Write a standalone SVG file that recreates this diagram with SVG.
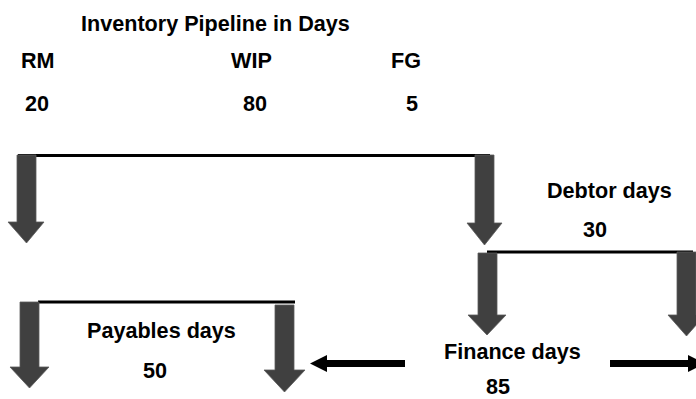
<svg xmlns="http://www.w3.org/2000/svg" width="696" height="399" viewBox="0 0 696 399">
  <style>
    .lbl { font-family: "Liberation Sans", Arial, sans-serif; font-weight: bold; font-size: 21.6px; fill: #000; }
    .bar { stroke: #000; stroke-width: 3; fill: none; }
    .block { fill: #404040; stroke: #5a5a5a; stroke-width: 0.8; }
    .flow { fill: #000; }
  </style>
  <rect width="696" height="399" fill="#fff"/>

  <!-- Text nodes -->
  <g id="title"><text class="lbl" x="81" y="31">Inventory Pipeline in Days</text></g>
  <g id="rm"><text class="lbl" x="21" y="68">RM</text><text class="lbl" x="25" y="111">20</text></g>
  <g id="wip"><text class="lbl" x="231" y="68">WIP</text><text class="lbl" x="243" y="111">80</text></g>
  <g id="fg"><text class="lbl" x="391" y="68">FG</text><text class="lbl" x="406" y="111">5</text></g>
  <g id="debtor"><text class="lbl" x="547" y="198">Debtor days</text><text class="lbl" x="583" y="237">30</text></g>
  <g id="payables"><text class="lbl" x="87" y="338">Payables days</text><text class="lbl" x="143" y="378">50</text></g>
  <g id="finance"><text class="lbl" x="444" y="359">Finance days</text><text class="lbl" x="486" y="394">85</text></g>

  <!-- Connectors -->
  <g id="connectors">
    <!-- span bars -->
    <line class="bar" x1="18" y1="155.5" x2="490" y2="155.5"/>
    <line class="bar" x1="487" y1="252" x2="693" y2="252"/>
    <line class="bar" x1="38" y1="302" x2="295" y2="302"/>

    <!-- downward block arrows -->
    <path class="block" d="M17,155 H36 V222 H44 L26.5,243 L8,222 H17 Z"/>
    <path class="block" d="M475,155 H494 V223 H502 L484.5,245 L467,223 H475 Z"/>
    <path class="block" d="M478,253 H497 V315 H506 L487,335 L468,315 H478 Z"/>
    <path class="block" d="M677,252 H696 V315 H705 L686.5,336 L668,315 H677 Z"/>
    <path class="block" d="M20,302 H39 V367 H49 L29.5,388 L10,367 H20 Z"/>
    <path class="block" d="M275,305 H294 V370 H305 L284.5,392 L264,370 H275 Z"/>

    <!-- horizontal flow arrows -->
    <path class="flow" d="M405,360 V367 H327 V372 L310,363.5 L327,355 V360 Z"/>
    <path class="flow" d="M610,360 V367 H688 V372 L705,363.5 L688,355 V360 Z"/>
  </g>
</svg>
